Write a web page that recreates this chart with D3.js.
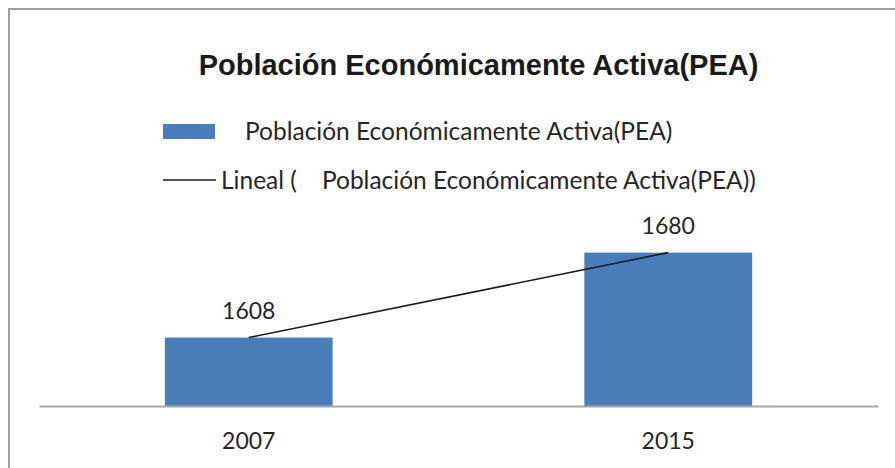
<!DOCTYPE html>
<html>
<head>
<meta charset="utf-8">
<script src="https://cdn.jsdelivr.net/npm/d3@7"></script>
<style>
  html, body { margin: 0; padding: 0; background: #fff; }
  svg { display: block; }
</style>
</head>
<body>
<svg id="chart" width="895" height="468"></svg>
<script>
const chartTitle = "Población Económicamente Activa(PEA)";
const seriesName = "Población Económicamente Activa(PEA)";
const trendName = "Lineal (    Población Económicamente Activa(PEA))";
const categories = ["2007", "2015"];
const values = [1608, 1680];
const yDomain = [1550, 1700];

const svg = d3.select("#chart");
const labelFont = "Lato, 'Open Sans', sans-serif";

// chart border
svg.append("rect")
  .attr("x", 9).attr("y", 9).attr("width", 900).attr("height", 480)
  .attr("fill", "#fff").attr("stroke", "#a0a0a0").attr("stroke-width", 2);

const plot = { left: 39, right: 878, top: 229, bottom: 406 };

const x = d3.scaleBand().domain(categories)
  .range([plot.left, plot.right]).paddingInner(0.6).paddingOuter(0.3);
const y = d3.scaleLinear().domain(yDomain).range([plot.bottom, plot.top]);

// title
svg.append("text")
  .attr("x", 478.5).attr("y", 75)
  .attr("text-anchor", "middle")
  .attr("font-family", "'Liberation Sans', Arial, sans-serif")
  .attr("font-weight", "bold").attr("font-size", 29)
  .attr("fill", "#1a1a1a")
  .text(chartTitle);

// legend
svg.append("rect").attr("x", 163).attr("y", 124).attr("width", 52).attr("height", 15)
  .attr("fill", "#4a7ebb");
svg.append("text").attr("x", 245).attr("y", 140)
  .attr("font-family", labelFont).attr("font-size", 24.5).attr("fill", "#262626")
  .text(seriesName);
svg.append("line").attr("x1", 163).attr("x2", 216).attr("y1", 180).attr("y2", 180)
  .attr("stroke", "#1a1a1a").attr("stroke-width", 1.5);
svg.append("text").attr("x", 221).attr("y", 188.5)
  .attr("font-family", labelFont).attr("font-size", 24.5).attr("fill", "#262626")
  .style("white-space", "pre")
  .text(trendName);

// bars
svg.append("g").selectAll("rect").data(values).join("rect")
  .attr("x", (d, i) => x(categories[i]))
  .attr("width", x.bandwidth())
  .attr("y", d => y(d))
  .attr("height", d => y(yDomain[0]) - y(d))
  .attr("fill", "#4a7ebb");

// axis line + category labels
const xAxis = svg.append("g").attr("transform", `translate(0,${plot.bottom})`)
  .call(d3.axisBottom(x).tickSize(0).tickPadding(0));
xAxis.select(".domain").attr("stroke", "#a6a6a6").attr("stroke-width", 2);
xAxis.selectAll("text")
  .attr("dy", null).attr("y", 43)
  .attr("font-family", labelFont).attr("font-size", 23).attr("fill", "#262626");

// linear trend line
const line = d3.line()
  .x((d, i) => x(categories[i]) + x.bandwidth() / 2)
  .y(d => y(d));
svg.append("path").datum(values)
  .attr("d", line).attr("fill", "none")
  .attr("stroke", "#1a1a1a").attr("stroke-width", 1.6);

// data labels
svg.append("g").selectAll("text").data(values).join("text")
  .attr("x", (d, i) => x(categories[i]) + x.bandwidth() / 2)
  .attr("y", d => y(d) - 19)
  .attr("text-anchor", "middle")
  .attr("font-family", labelFont).attr("font-size", 23).attr("fill", "#262626")
  .text(d => d);
</script>
</body>
</html>
